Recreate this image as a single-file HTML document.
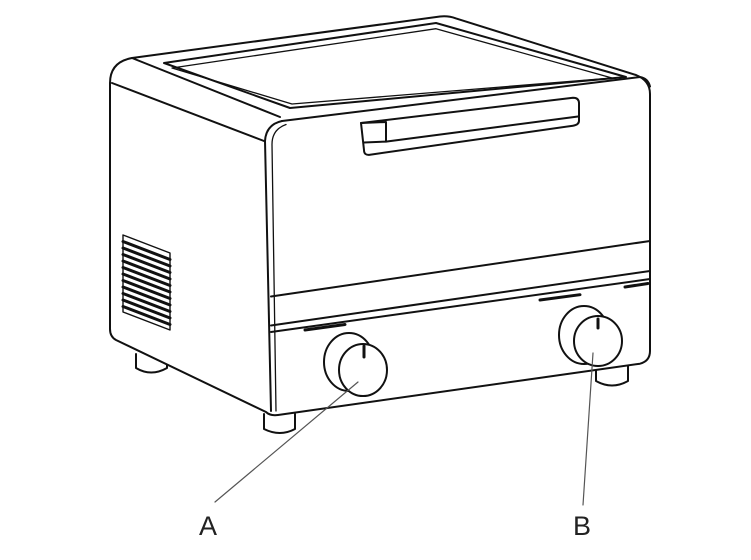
<!DOCTYPE html>
<html><head><style>body{margin:0;background:#fff}svg{display:block}</style></head>
<body>
<svg width="751" height="560" viewBox="0 0 751 560" xmlns="http://www.w3.org/2000/svg" fill="none" stroke="#111" stroke-width="2" stroke-linejoin="round" stroke-linecap="round">
<!-- feet -->
<path d="M136 354 L136 368 Q151 377 167 368 L167 356"/>
<path d="M264 414 L264 429 Q280 437 295 429 L295 414"/>
<path d="M596 367 L596 381 Q612 390 628 381 L628 365"/>
<!-- outer body -->
<path d="M132 58 L440 16.5 Q448 15.5 456 18.4 L636 75 Q650 80.6 650 94 L650 351 Q650 361 640 363.7 L278 415 Q270 416 266 412 L116 340 Q110 336.7 110 329 L110 83 Q110 62 132 58 Z" fill="#fff"/>
<!-- side top edge -->
<path d="M112 83 L264 141"/>
<path d="M132 58 L280 117"/>
<!-- top inner panel -->
<path d="M164 63 L436 23 L626 77 L290 108 Z"/>
<path d="M172 68 L436 28.7 L612 78 L292 104 Z" stroke-width="1.3"/>
<!-- front face -->
<path d="M282 121 L640 77 Q648 78.4 650 86.5"/>
<path d="M282 121 Q266 124.5 265 141 L271 411"/>
<path d="M286 124.5 Q272 129.5 272 144.4 L276 411" stroke-width="1.3"/>
<!-- door bottom / panel lines -->
<path d="M271 296.5 L650 241"/>
<path d="M271 325.5 L650 271"/>
<path d="M271 332 L650 279"/>
<path d="M305 330 L345 324.5 M540 300 L580 294.7 M625 287 L648 283.5" stroke-width="3"/>
<!-- handle -->
<path d="M361 123 L573 97.7 Q579 97.7 579 103.3 L579 120.8 Q579 124.8 573 125.7 L370 154.7 Q364 155.6 364 150 Z"/>
<path d="M361 123 L386 122 L386 141.6 L579 116.4"/>
<path d="M364 142.5 L386 141.6"/>
<!-- vent -->
<path d="M123 235 L170 253 L170 330 L123 312 Z" stroke-width="1.4"/>
<path d="M123 241.5 L170 259.5 M123 248 L170 266 M123 254.5 L170 272.5 M123 261 L170 279 M123 267.5 L170 285.5 M123 274 L170 292 M123 280.5 L170 298.5 M123 287 L170 305 M123 293.5 L170 311.5 M123 300 L170 318 M123 306.5 L170 324.5" stroke-width="3"/>
<!-- knobs -->
<ellipse cx="349" cy="362" rx="25" ry="29" fill="#fff"/>
<ellipse cx="363" cy="370" rx="24" ry="26" fill="#fff"/>
<path d="M364 346 L364 357" stroke-width="3"/>
<ellipse cx="584" cy="335" rx="25" ry="29" fill="#fff"/>
<ellipse cx="598" cy="341" rx="24" ry="25" fill="#fff"/>
<path d="M598 319 L598 328" stroke-width="3"/>
<!-- leaders -->
<path d="M358 382 L215 502" stroke="#555" stroke-width="1.2"/>
<path d="M593 353 L583 505" stroke="#555" stroke-width="1.2"/>
<g fill="#222" stroke="none" font-family="Liberation Sans, sans-serif" font-size="27">
<text x="199" y="535">A</text>
<text x="573" y="535">B</text>
</g>
</svg>
</body></html>
